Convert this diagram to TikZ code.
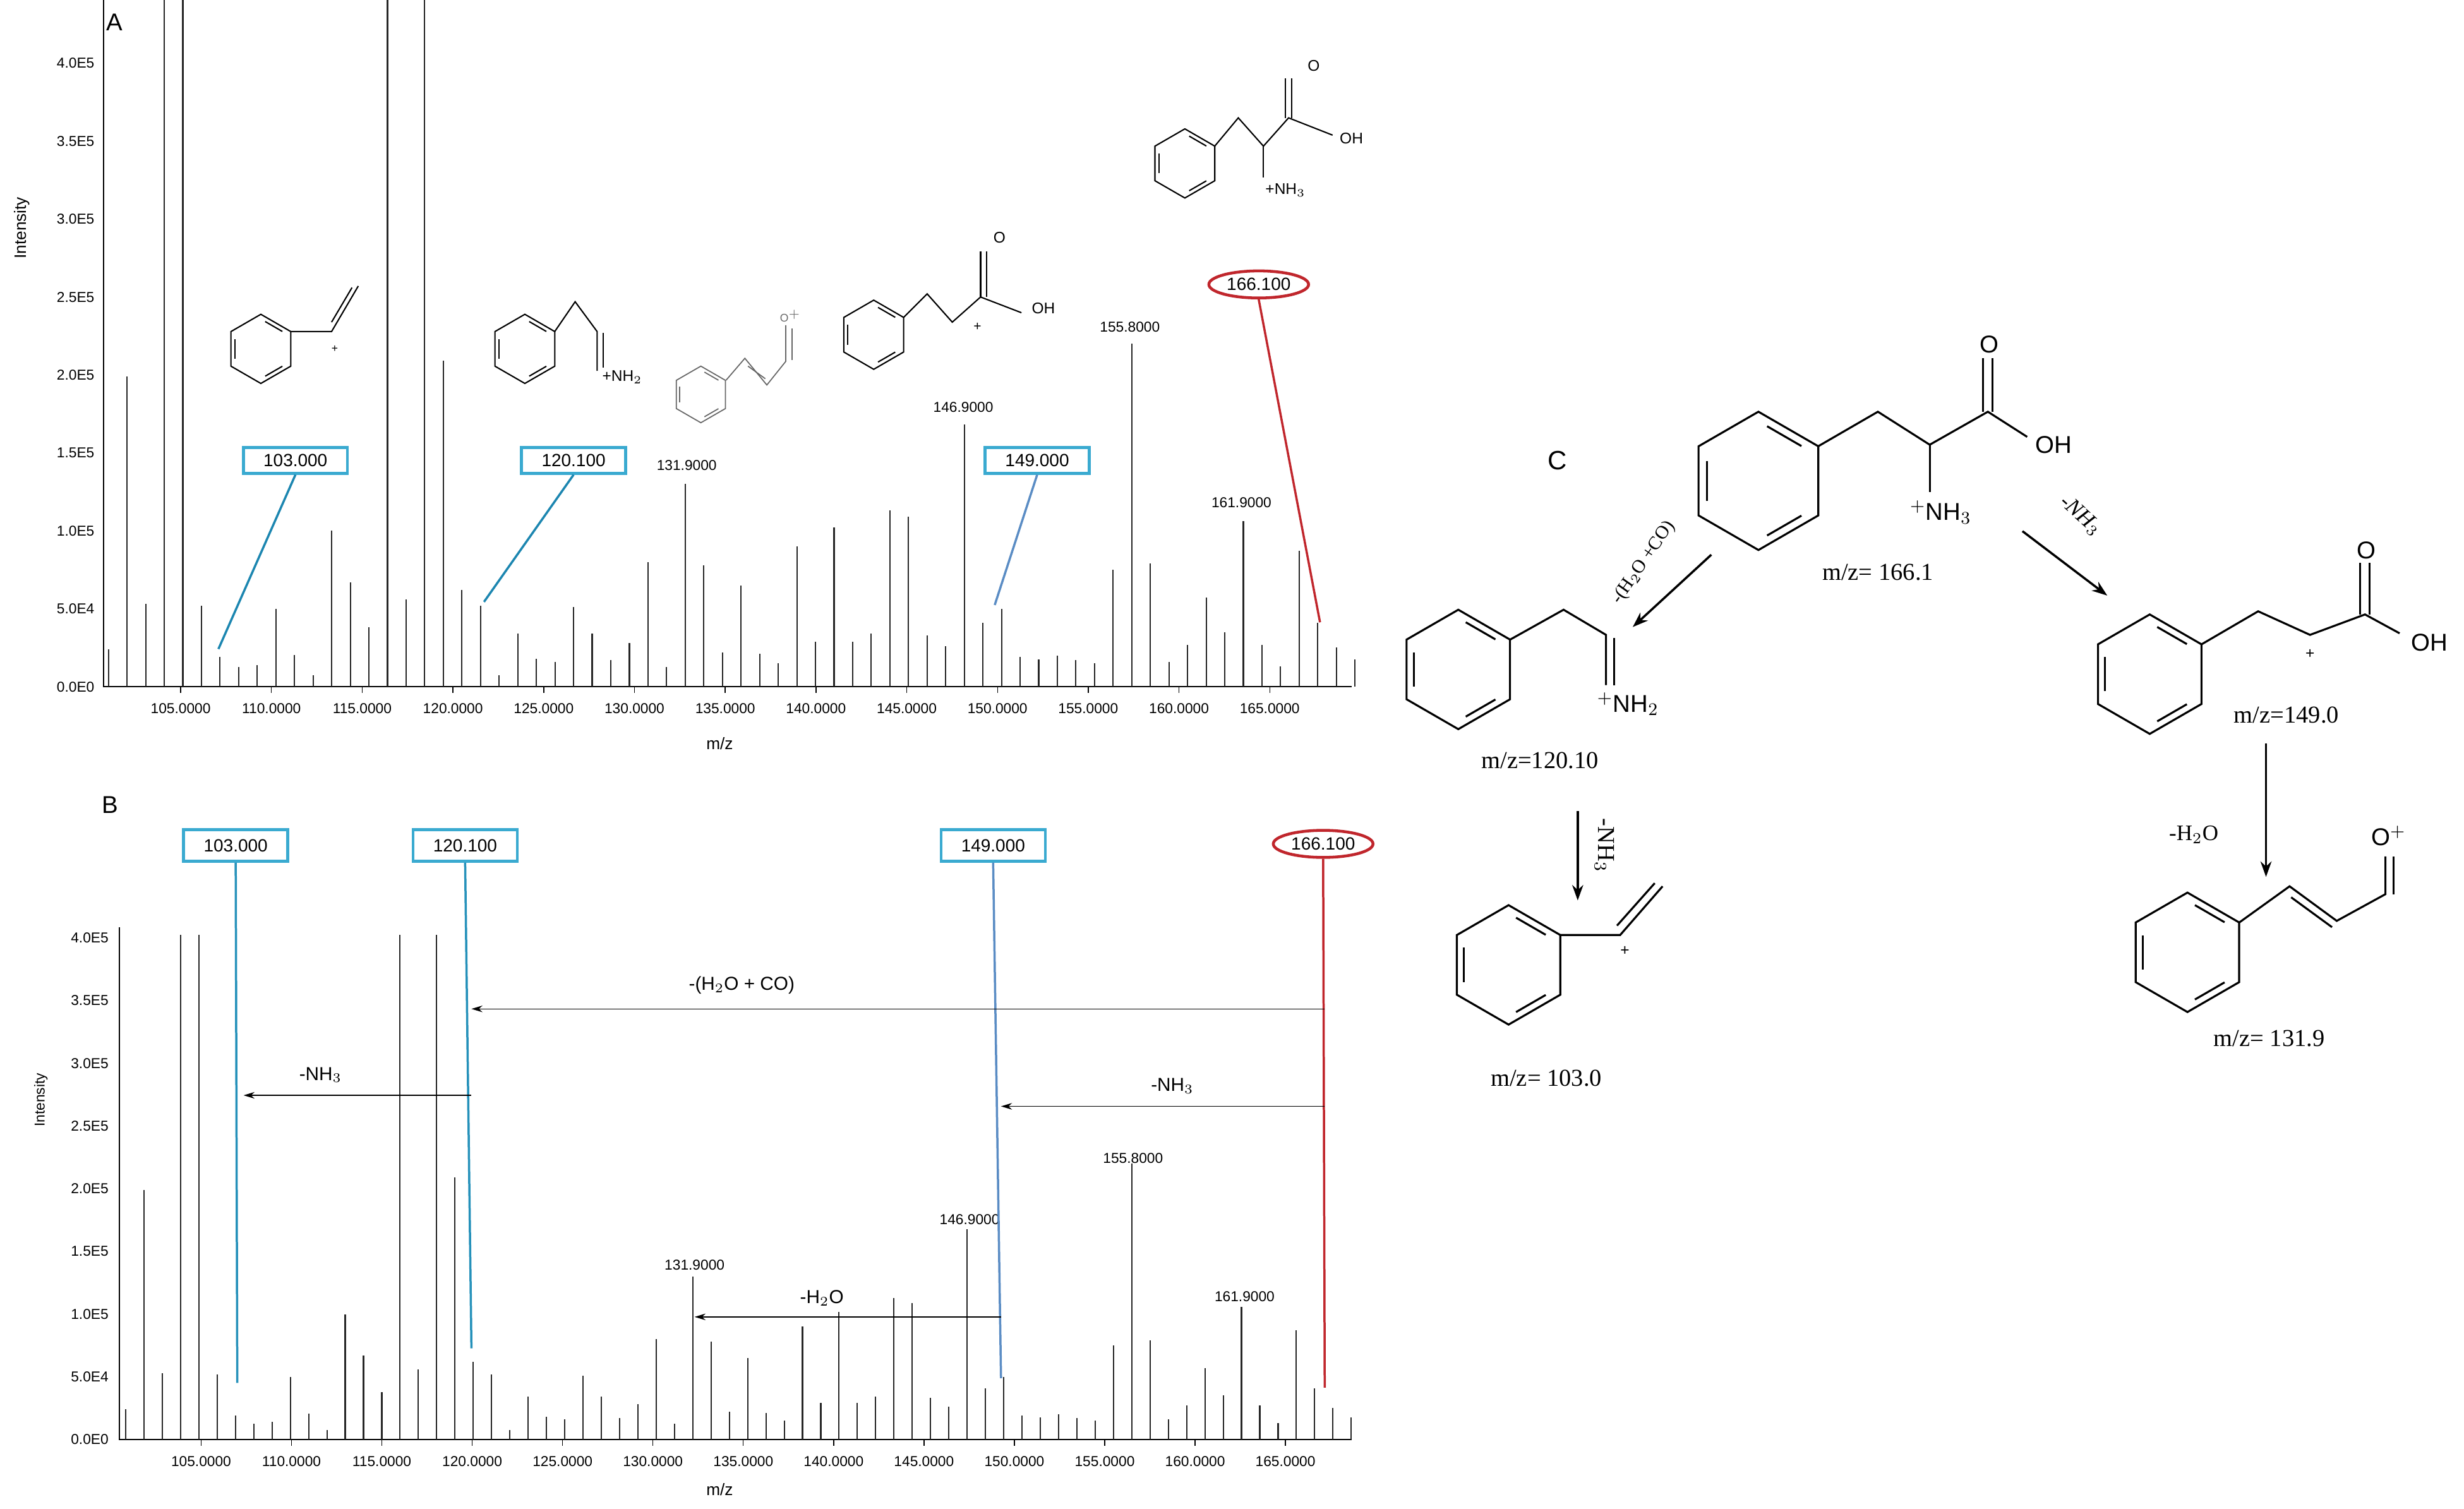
\documentclass[tikz,border=0pt]{standalone}
\usepackage{fontspec}
\setmainfont{Liberation Sans}
\newfontfamily\tms{Liberation Serif}
\definecolor{boxc}{HTML}{3AAAD0}
\definecolor{linec}{HTML}{1C86B0}
\definecolor{steel}{HTML}{5A8CC4}
\definecolor{redc}{HTML}{C0262C}
\begin{document}
\begin{tikzpicture}[x=0.25mm,y=-0.25mm,
  bond/.style={line width=0.9pt,black},
  thinb/.style={line width=0.5pt,black!60},
  bar/.style={line width=0.6pt,black!85},
  cbox/.style={draw=boxc,line width=1.3pt,fill=white,minimum width=66pt/1.4,inner sep=3pt,font=\fontsize{8}{9}\selectfont},
  rell/.style={ellipse,draw=redc,line width=1.3pt,inner sep=1.5pt,font=\fontsize{8}{9}\selectfont},
  tick/.style={font=\fontsize{6.5}{7}\selectfont},
  plab/.style={font=\fontsize{6.5}{7}\selectfont},
  chem/.style={font=\fontsize{11}{12}\selectfont},
  chems/.style={font=\fontsize{7}{8}\selectfont},
  tlab/.style={font=\tms\fontsize{11}{12}\selectfont},
  rxn/.style={-{Stealth[length=7pt,width=5pt]},line width=1pt},
  sarr/.style={-{Stealth[length=5pt,width=3pt]},line width=0.4pt}]
\usetikzlibrary{arrows.meta,shapes.geometric}
\useasboundingbox (0,0) rectangle (1568,960);
\newcommand\benz[4][]{%
 \draw[#1] ({#2},{#3-#4}) -- ({#2+0.866*#4},{#3-0.5*#4}) -- ({#2+0.866*#4},{#3+0.5*#4}) -- ({#2},{#3+#4}) -- ({#2-0.866*#4},{#3+0.5*#4}) -- ({#2-0.866*#4},{#3-0.5*#4}) -- cycle;
 \foreach \a in {90,-30,210} {\draw[#1] ({#2+0.8*#4*cos(\a-9)},{#3-0.8*#4*sin(\a-9)}) -- ({#2+0.8*#4*cos(\a-51)},{#3-0.8*#4*sin(\a-51)});}}
% ---------------- Panel A -----------------
\node[font=\fontsize{11}{12}\selectfont,fill=white,inner sep=1pt] (lA) at (73,14) {A};
\node[rotate=90,font=\fontsize{7.5}{8}\selectfont] (iA) at (14,145) {Intensity};
\draw[line width=0.6pt] (66,0) -- (66,437) -- (860,437);
\foreach \k/\t in {0/0.0E0,1/5.0E4,2/1.0E5,3/1.5E5,4/2.0E5,5/2.5E5,6/3.0E5,7/3.5E5,8/4.0E5}
  {\node[tick,anchor=east] at (65,{437-\k*49.6}) {\t};}
\foreach \k/\t in {0/105,1/110,2/115,3/120,4/125,5/130,6/135,7/140,8/145,9/150,10/155,11/160,12/165}
  {\draw (115+\k*57.75,437) -- (115+\k*57.75,441); \node[tick] at (115+\k*57.75,451) {\t.0000};}
\node[font=\fontsize{7.5}{8}\selectfont] (mzA) at (458,473) {m/z};
\foreach \v [count=\i from 0] in {2.4,19.9,5.3,50,50,5.2,1.9,1.25,1.4,5.0,2.05,0.74,10.0,6.7,3.8,50,5.6,50,20.9,6.2,5.2,0.74,3.4,1.8,1.6,5.1,3.4,1.7,2.8,8.0,1.25,13.0,7.8,2.2,6.5,2.1,1.5,9.0,2.9,10.2,2.9,3.4,11.3,10.9,3.3,2.6,16.8,4.1,5.0,1.9,1.75,2.0,1.7,1.5,7.5,22,7.9,1.6,2.7,5.7,3.5,10.6,2.7,1.3,8.7,4.1,2.5,1.75}
  {\pgfmathsetmacro\xx{69+\i*11.84}\pgfmathsetmacro\yy{max(437-\v*9.925,0)}
   \draw[bar] (\xx,437) -- (\xx,\yy);}
\node[plab] (p1A) at (437,296) {131.9000};
\node[plab] (p2A) at (613,259) {146.9000};
\node[plab] (p3A) at (719,208) {155.8000};
\node[plab] (p4A) at (790,320) {161.9000};
\node[cbox] (b1A) at (188,293) {103.000};
\node[cbox] (b2A) at (365,293) {120.100};
\node[cbox] (b3A) at (660,293) {149.000};
\node[rell] (eA) at (801,181) {166.100};
\coordinate (t1A) at (139,413); \coordinate (t2A) at (308,383);
\coordinate (t3A) at (633,385); \coordinate (t4A) at (840,396);
\draw[line width=1pt,linec] (b1A.south) -- (t1A);
\draw[line width=1pt,linec] (b2A.south) -- (t2A);
\draw[line width=1pt,steel] (b3A.south) -- (t3A);
\draw[line width=1pt,redc] (eA.south) -- (t4A);
% structures in A
\benz[line width=0.6pt]{166}{222}{22}
\draw[line width=0.6pt] (185,211) -- (211,211) -- (228,182);
\draw[line width=0.6pt] (211,205) -- (224,183);
\node[font=\fontsize{5}{5}\selectfont] (pl1) at (213,222) {+};
\benz[line width=0.6pt]{334}{222}{22}
\draw[line width=0.6pt] (353,211) -- (366,192) -- (380,211) -- (380,236);
\draw[line width=0.6pt] (384,212) -- (384,234);
\node[chems] (nh2A) at (396,240) {+NH$_2$};
\benz[thinb]{446}{251}{18}
\draw[thinb] (462,242) -- (474,228) -- (488,245) -- (500,230) -- (500,207);
\draw[thinb] (476,233) -- (487,241);
\draw[thinb] (504,229) -- (504,209);
\node[font=\fontsize{5}{5}\selectfont,text=black!60] (oA) at (503,201) {O$^{+}$};
\benz[line width=0.6pt]{556}{213}{22}
\draw[line width=0.6pt] (575,202) -- (590,187) -- (606,205) -- (624,189) -- (650,199);
\draw[line width=0.6pt] (624,189) -- (624,160); \draw[line width=0.6pt] (628,189) -- (628,160);
\node[chems] (o2A) at (636,151) {O};
\node[chems] (oh2A) at (664,196) {OH};
\node[font=\fontsize{6}{6}\selectfont] (pl2) at (622,208) {+};
\benz[line width=0.6pt]{754}{104}{22}
\draw[line width=0.6pt] (773,93) -- (788,75) -- (804,93) -- (820,75) -- (848,86);
\draw[line width=0.6pt] (804,93) -- (804,113);
\draw[line width=0.6pt] (818,75) -- (818,50); \draw[line width=0.6pt] (822,75) -- (822,50);
\node[chems] (o1A) at (836,42) {O};
\node[chems] (oh1A) at (860,88) {OH};
\node[chems] (nh3A) at (818,121) {+NH$_3$};
% ---------------- Panel B -----------------
\node[font=\fontsize{11}{12}\selectfont] (lB) at (70,512) {B};
\node[rotate=90,font=\fontsize{6.5}{7}\selectfont] (iB) at (26,700) {Intensity};
\draw[line width=0.6pt] (76,590) -- (76,916) -- (860,916);
\foreach \k/\t in {0/0.0E0,1/5.0E4,2/1.0E5,3/1.5E5,4/2.0E5,5/2.5E5,6/3.0E5,7/3.5E5,8/4.0E5}
  {\node[tick,anchor=east] at (74,{916-\k*39.9}) {\t};}
\foreach \k/\t in {0/105,1/110,2/115,3/120,4/125,5/130,6/135,7/140,8/145,9/150,10/155,11/160,12/165}
  {\draw (128+\k*57.5,916) -- (128+\k*57.5,920); \node[tick] at (128+\k*57.5,930) {\t.0000};}
\node[font=\fontsize{7.5}{8}\selectfont] (mzB) at (458,948) {m/z};
\foreach \v [count=\i from 0] in {2.4,19.9,5.3,50,50,5.2,1.9,1.25,1.4,5.0,2.05,0.74,10.0,6.7,3.8,50,5.6,50,20.9,6.2,5.2,0.74,3.4,1.8,1.6,5.1,3.4,1.7,2.8,8.0,1.25,13.0,7.8,2.2,6.5,2.1,1.5,9.0,2.9,10.2,2.9,3.4,11.3,10.9,3.3,2.6,16.8,4.1,5.0,1.9,1.75,2.0,1.7,1.5,7.5,22,7.9,1.6,2.7,5.7,3.5,10.6,2.7,1.3,8.7,4.1,2.5,1.75}
  {\pgfmathsetmacro\xx{80+\i*11.64}\pgfmathsetmacro\yy{max(916-\v*7.975,595)}
   \draw[bar] (\xx,916) -- (\xx,\yy);}
\node[plab] (p1B) at (442,805) {131.9000};
\node[plab] (p2B) at (617,776) {146.9000};
\node[plab] (p3B) at (721,737) {155.8000};
\node[plab] (p4B) at (792,825) {161.9000};
\node[cbox,minimum height=20pt/1.4] (b1B) at (150,538) {103.000};
\node[cbox,minimum height=20pt/1.4] (b2B) at (296,538) {120.100};
\node[cbox,minimum height=20pt/1.4] (b3B) at (632,538) {149.000};
\node[rell] (eB) at (842,537) {166.100};
\coordinate (t1B) at (151,880); \coordinate (t2B) at (300,858);
\coordinate (t3B) at (637,877); \coordinate (t4B) at (843,883);
\draw[line width=1pt,linec!70!boxc] (b1B.south) -- (t1B);
\draw[line width=1pt,linec!70!boxc] (b2B.south) -- (t2B);
\draw[line width=1pt,steel] (b3B.south) -- (t3B);
\draw[line width=1pt,redc] (eB.south) -- (t4B);
\coordinate (a1s) at (843,642); \coordinate (a1e) at (300,642);
\coordinate (a2s) at (300,697); \coordinate (a2e) at (155,697);
\coordinate (a3s) at (843,704); \coordinate (a3e) at (637,704);
\coordinate (a4s) at (637,838); \coordinate (a4e) at (442,838);
\draw[sarr] (a1s) -- (a1e); \draw[sarr] (a2s) -- (a2e);
\draw[sarr] (a3s) -- (a3e); \draw[sarr] (a4s) -- (a4e);
\node[font=\fontsize{8.5}{9}\selectfont] (l1B) at (472,627) {-(H$_2$O + CO)};
\node[font=\fontsize{8.5}{9}\selectfont] (l2B) at (204,684) {-NH$_3$};
\node[font=\fontsize{8.5}{9}\selectfont] (l3B) at (746,691) {-NH$_3$};
\node[font=\fontsize{8.5}{9}\selectfont] (l4B) at (523,826) {-H$_2$O};
% ---------------- Panel C -----------------
\node[font=\fontsize{12}{13}\selectfont] (lC) at (991,293) {C};
\benz[bond]{1119}{306}{44}
\draw[bond] (1157,284) -- (1195,262) -- (1228,283) -- (1265,262) -- (1290,278);
\draw[bond] (1228,283) -- (1228,313);
\draw[bond] (1262,262) -- (1262,228); \draw[bond] (1268,262) -- (1268,228);
\node[chem] (oC1) at (1266,219) {O};
\node[chem] (ohC1) at (1307,283) {OH};
\node[chem] (nhC1) at (1235,326) {$^{+}$NH$_3$};
\node[tlab] (m1) at (1195,364) {m/z= 166.1};
\benz[bond]{928}{426}{38}
\draw[bond] (961,407) -- (995,388) -- (1022,404) -- (1022,436);
\draw[bond] (1027,406) -- (1027,436);
\node[chem] (nhC2) at (1036,448) {$^{+}$NH$_2$};
\node[tlab] (m2) at (980,484) {m/z=120.10};
\benz[bond]{960}{614}{38}
\draw[bond] (993,595) -- (1031,595) -- (1058,564);
\draw[bond] (1029,589) -- (1053,562);
\node[font=\fontsize{7}{7}\selectfont] (plC1) at (1034,605) {+};
\node[tlab] (m3) at (984,686) {m/z= 103.0};
\benz[bond]{1368}{429}{38}
\draw[bond] (1401,410) -- (1437,389) -- (1470,404) -- (1505,391) -- (1527,403);
\draw[bond] (1502,391) -- (1502,358); \draw[bond] (1508,391) -- (1508,358);
\node[chem] (oC3) at (1506,350) {O};
\node[chem] (ohC3) at (1546,409) {OH};
\node[font=\fontsize{7}{7}\selectfont] (plC2) at (1470,416) {+};
\node[tlab] (m4) at (1455,455) {m/z=149.0};
\benz[bond]{1392}{606}{38}
\draw[bond] (1425,587) -- (1457,564) -- (1487,586) -- (1518,569) -- (1518,545);
\draw[bond] (1458,571) -- (1484,590);
\draw[bond] (1523,569) -- (1523,545);
\node[chem] (oC4) at (1520,532) {O$^{+}$};
\node[tlab] (m5) at (1444,661) {m/z= 131.9};
\coordinate (r1s) at (1089,353); \coordinate (r1e) at (1039,399);
\coordinate (r2s) at (1004,516); \coordinate (r2e) at (1004,573);
\coordinate (r3s) at (1287,338); \coordinate (r3e) at (1341,379);
\coordinate (r4s) at (1442,473); \coordinate (r4e) at (1442,558);
\draw[rxn] (r1s) -- (r1e); \draw[rxn] (r2s) -- (r2e);
\draw[rxn] (r3s) -- (r3e); \draw[rxn] (r4s) -- (r4e);
\node[tlab,font=\tms\fontsize{8.5}{9}\selectfont,rotate=55] (x1) at (1046,358) {-(H$_2$O +CO)};
\node[tlab,rotate=-90] (x2) at (1021,538) {-NH$_3$};
\node[tlab,rotate=-42,font=\tms\itshape\fontsize{10}{11}\selectfont] (x3) at (1324,328) {-NH$_3$};
\node[tlab,font=\tms\fontsize{10}{11}\selectfont] (x4) at (1396,531) {-H$_2$O};
\end{tikzpicture}
\end{document}
